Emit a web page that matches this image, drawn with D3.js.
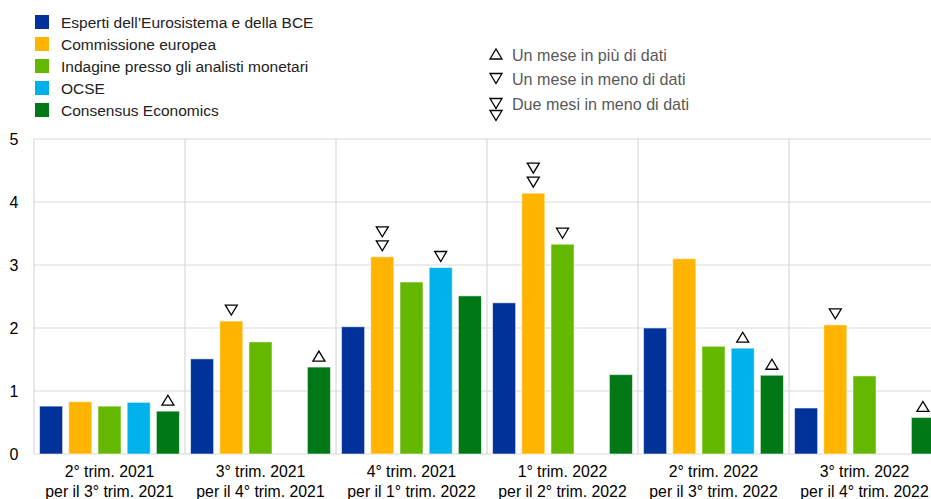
<!DOCTYPE html>
<html>
<head>
<meta charset="utf-8">
<script src="https://cdn.jsdelivr.net/npm/d3@7/dist/d3.min.js"></script>
<style>
  html, body { margin: 0; padding: 0; background: #fff; }
  svg { display: block; font-family: "Liberation Sans", Arial, sans-serif; }
</style>
</head>
<body>
<svg id="chart" width="931" height="499"></svg>
<script>
// Forecast periods (two-line labels)
const periods = [
  ["2° trim. 2021", "per il 3° trim. 2021"],
  ["3° trim. 2021", "per il 4° trim. 2021"],
  ["4° trim. 2021", "per il 1° trim. 2022"],
  ["1° trim. 2022", "per il 2° trim. 2022"],
  ["2° trim. 2022", "per il 3° trim. 2022"],
  ["3° trim. 2022", "per il 4° trim. 2022"]
];

const seriesNames = [
  "Esperti dell’Eurosistema e della BCE",
  "Commissione europea",
  "Indagine presso gli analisti monetari",
  "OCSE",
  "Consensus Economics"
];
const seriesColors = ["#003299", "#ffb400", "#65b800", "#00b1ea", "#007816"];

// Values per series (null = no forecast)
const esperti     = [0.76, 1.51, 2.02, 2.40, 2.00, 0.73];
const commissione = [0.83, 2.11, 3.13, 4.14, 3.10, 2.05];
const analisti    = [0.76, 1.78, 2.73, 3.33, 1.71, 1.24];
const ocse        = [0.82, null, 2.96, null, 1.68, null];
const consensus   = [0.68, 1.38, 2.51, 1.26, 1.25, 0.58];

// Data-vintage markers: "up" = one month more, "down" = one month less, "down2" = two months less
const markEsperti     = ["", "", "", "", "", ""];
const markCommissione = ["", "down", "down2", "down2", "", "down"];
const markAnalisti    = ["", "", "", "down", "", ""];
const markOcse        = ["", "", "down", "", "up", ""];
const markConsensus   = ["up", "up", "", "", "up", "up"];

const markerLegend = [
  { type: "up", label: "Un mese in più di dati" },
  { type: "down", label: "Un mese in meno di dati" },
  { type: "down2", label: "Due mesi in meno di dati" }
];

const yTicks = [0, 1, 2, 3, 4, 5];

const seriesValues = [esperti, commissione, analisti, ocse, consensus];
const seriesMarks = [markEsperti, markCommissione, markAnalisti, markOcse, markConsensus];

const svg = d3.select("#chart");
const plot = { left: 34, right: 940, top: 139, bottom: 454 };

const x0 = d3.scaleBand()
  .domain(d3.range(periods.length))
  .range([plot.left, plot.right])
  .padding(0);

const x1 = d3.scaleBand()
  .domain(d3.range(seriesNames.length))
  .range([0, x0.bandwidth()])
  .paddingInner(0.21)
  .paddingOuter(0.19);

const y = d3.scaleLinear().domain([0, 5]).range([plot.bottom, plot.top]);

const gridColor = "#d9d9d9";

// Horizontal gridlines
svg.append("g")
  .selectAll("line")
  .data(yTicks)
  .join("line")
  .attr("x1", plot.left).attr("x2", plot.right)
  .attr("y1", d => y(d)).attr("y2", d => y(d))
  .attr("stroke", gridColor).attr("stroke-width", 1.2);

// Vertical separators between periods
svg.append("g")
  .selectAll("line")
  .data(d3.range(periods.length + 1))
  .join("line")
  .attr("x1", d => d < periods.length ? x0(d) : plot.right)
  .attr("x2", d => d < periods.length ? x0(d) : plot.right)
  .attr("y1", plot.top).attr("y2", plot.bottom)
  .attr("stroke", gridColor).attr("stroke-width", 1.2);

// Y tick labels
svg.append("g")
  .selectAll("text")
  .data(yTicks)
  .join("text")
  .attr("x", 14).attr("y", d => y(d) + 6)
  .attr("text-anchor", "middle")
  .attr("font-size", 16).attr("fill", "#000")
  .text(d => d);

// Bars
const bars = [];
seriesValues.forEach((vals, s) => {
  vals.forEach((v, p) => {
    if (v != null) bars.push({ s, p, v, mark: seriesMarks[s][p] });
  });
});

svg.append("g")
  .selectAll("rect")
  .data(bars)
  .join("rect")
  .attr("x", d => x0(d.p) + x1(d.s))
  .attr("y", d => y(d.v))
  .attr("width", x1.bandwidth())
  .attr("height", d => y(0) - y(d.v))
  .attr("fill", d => seriesColors[d.s])
  .attr("stroke", "rgba(255,255,255,0.55)")
  .attr("stroke-width", 1);

// Triangle path centred at (cx, cy)
function tri(type, cx, cy) {
  const w = 6, h = 5;
  if (type === "up") {
    return `M${cx - w},${cy + h}L${cx + w},${cy + h}L${cx},${cy - h}Z`;
  }
  return `M${cx - w},${cy - h}L${cx + w},${cy - h}L${cx},${cy + h}Z`;
}

function markerShapes(type, cx, bottomY) {
  // bottomY: lowest point of the marker stack
  if (type === "down2") {
    return [tri("down", cx, bottomY - 5), tri("down", cx, bottomY - 19)];
  }
  return [tri(type, cx, bottomY - 5)];
}

const markG = svg.append("g");
bars.filter(d => d.mark).forEach(d => {
  const cx = x0(d.p) + x1(d.s) + x1.bandwidth() / 2;
  markerShapes(d.mark, cx, y(d.v) - 6).forEach(p => {
    markG.append("path").attr("d", p)
      .attr("fill", "#fff").attr("stroke", "#000").attr("stroke-width", 1.3)
      .attr("stroke-linejoin", "miter");
  });
});

// X labels
const xl = svg.append("g");
periods.forEach((lines, p) => {
  const cx = x0(p) + x0.bandwidth() / 2;
  lines.forEach((t, i) => {
    xl.append("text")
      .attr("x", cx).attr("y", 477 + i * 20)
      .attr("text-anchor", "middle")
      .attr("font-size", 15.8).attr("fill", "#000")
      .text(t);
  });
});

// Series legend
const leg = svg.append("g");
seriesNames.forEach((n, i) => {
  const yy = 22 + i * 22;
  leg.append("rect").attr("x", 35).attr("y", yy - 7).attr("width", 14).attr("height", 14)
    .attr("fill", seriesColors[i]);
  leg.append("text").attr("x", 61).attr("y", yy + 5.5)
    .attr("font-size", 15.5).attr("fill", "#222").text(n);
});

// Marker legend
const mleg = svg.append("g");
markerLegend.forEach((m, i) => {
  const yy = 55 + i * 24.5;
  const cx = 496;
  if (m.type === "down2") {
    mleg.append("path").attr("d", tri("down", cx, yy - 0.5))
      .attr("fill", "#fff").attr("stroke", "#000").attr("stroke-width", 1.3);
    mleg.append("path").attr("d", tri("down", cx, yy + 11.5))
      .attr("fill", "#fff").attr("stroke", "#000").attr("stroke-width", 1.3);
  } else {
    mleg.append("path").attr("d", tri(m.type, cx, yy - 1))
      .attr("fill", "#fff").attr("stroke", "#000").attr("stroke-width", 1.3);
  }
  mleg.append("text").attr("x", 512).attr("y", yy + 5.5)
    .attr("font-size", 16.1)
    .attr("fill", "#595959").text(m.label);
});
</script>
</body>
</html>
